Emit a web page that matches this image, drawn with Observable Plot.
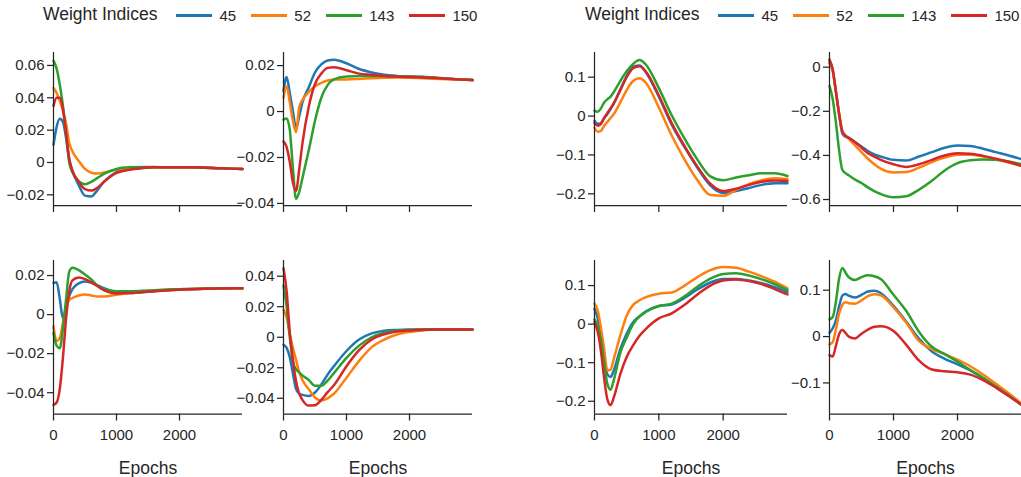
<!DOCTYPE html>
<html><head><meta charset="utf-8">
<script src="https://cdn.jsdelivr.net/npm/d3@7"></script>
<script src="https://cdn.jsdelivr.net/npm/@observablehq/plot@0.6"></script>
<style>
html,body{margin:0;padding:0;background:#fff;overflow:hidden;}
#root{position:relative;width:1021px;height:477px;font-family:"Liberation Sans",Arial,sans-serif;color:#262626;overflow:hidden;}
.legend{position:absolute;top:0;height:29px;display:flex;align-items:center;white-space:nowrap;}
.legend .title{font-size:17.5px;margin-right:19px;}
.legend .sw{display:inline-block;width:36px;height:3px;margin-right:7px;position:relative;top:0.5px;}
.legend .lab{font-size:15px;margin-right:15.2px;position:relative;top:1px;}
.legend .lab:last-child{margin-right:0;}
.panel{position:absolute;}
</style></head><body><div id="root"></div>
<script>
const epochs = [0,50,100,150,200,250,300,400,500,600,700,800,1000,1200,1400,1600,1800,2000,2200,2400,2600,2800,3000];
const weightIndices = ["45","52","143","150"];
const seriesColors = ["#1f77b4","#ff7f0e","#2ca02c","#d62728"];
const xTicks = [0,1000,2000];
const xLabel = "Epochs";
const legendTitle = "Weight Indices";

// Left group, top-left
const panelA = [
  [0.011,0.022,0.027,0.025,0.015,0.002,-0.005,-0.014,-0.0205,-0.021,-0.017,-0.012,-0.006,-0.004,-0.0032,-0.003,-0.003,-0.003,-0.003,-0.0032,-0.0035,-0.0038,-0.004],
  [0.046,0.043,0.038,0.032,0.024,0.012,0.007,0.001,-0.004,-0.0063,-0.0068,-0.0062,-0.0045,-0.0035,-0.003,-0.003,-0.003,-0.003,-0.003,-0.0032,-0.0035,-0.0038,-0.004],
  [0.063,0.058,0.048,0.035,0.017,0.0,-0.006,-0.0115,-0.0135,-0.012,-0.0095,-0.007,-0.004,-0.003,-0.0028,-0.0028,-0.003,-0.003,-0.003,-0.0032,-0.0035,-0.0038,-0.004],
  [0.035,0.04,0.04,0.033,0.018,0.002,-0.005,-0.012,-0.0165,-0.0174,-0.0155,-0.012,-0.0065,-0.0045,-0.0035,-0.003,-0.003,-0.003,-0.003,-0.0032,-0.0035,-0.0038,-0.004]
];
const yTicksA = [-0.02,0,0.02,0.04,0.06];

// Left group, top-right
const panelB = [
  [0.009,0.015,0.008,0.0,-0.0075,-0.002,0.004,0.0105,0.017,0.0205,0.0222,0.0225,0.021,0.0185,0.017,0.016,0.0155,0.0152,0.015,0.0146,0.0143,0.014,0.0137],
  [0.006,0.011,0.004,-0.004,-0.009,0.002,0.005,0.0085,0.011,0.0125,0.0135,0.014,0.014,0.0142,0.0145,0.0147,0.0148,0.0147,0.0145,0.0143,0.0141,0.0139,0.0137],
  [-0.0035,-0.003,-0.008,-0.025,-0.038,-0.035,-0.029,-0.017,-0.004,0.006,0.0115,0.014,0.0153,0.0155,0.0155,0.0155,0.0154,0.0153,0.0151,0.0148,0.0144,0.014,0.0137],
  [-0.013,-0.0155,-0.022,-0.031,-0.0345,-0.025,-0.014,0.002,0.012,0.0165,0.019,0.0193,0.018,0.0165,0.016,0.0155,0.0152,0.015,0.0148,0.0146,0.0143,0.014,0.0137]
];
const yTicksB = [-0.04,-0.02,0,0.02];

// Left group, bottom-left
const panelC = [
  [0.0162,0.0165,0.008,-0.002,0.004,0.0095,0.013,0.016,0.017,0.0163,0.015,0.0135,0.0115,0.011,0.0115,0.012,0.0125,0.0128,0.013,0.0132,0.0134,0.0135,0.0135],
  [-0.006,-0.0135,-0.012,-0.004,0.004,0.0075,0.0085,0.0098,0.0103,0.0098,0.0093,0.0093,0.0102,0.011,0.0117,0.0122,0.0126,0.0129,0.0131,0.0133,0.0134,0.0135,0.0135],
  [-0.0094,-0.016,-0.0172,-0.007,0.008,0.022,0.024,0.0228,0.0205,0.018,0.0148,0.013,0.012,0.012,0.0122,0.0125,0.0128,0.013,0.0132,0.0133,0.0134,0.0135,0.0135],
  [-0.0462,-0.045,-0.038,-0.022,-0.002,0.012,0.0175,0.019,0.0182,0.0165,0.0145,0.0125,0.0108,0.011,0.0115,0.012,0.0124,0.0127,0.013,0.0132,0.0134,0.0135,0.0135]
];
const yTicksC = [-0.04,-0.02,0,0.02];

// Left group, bottom-right
const panelD = [
  [-0.005,-0.007,-0.013,-0.024,-0.034,-0.037,-0.0378,-0.0385,-0.0362,-0.031,-0.0245,-0.019,-0.009,-0.0015,0.0025,0.0043,0.0048,0.005,0.005,0.005,0.005,0.005,0.005],
  [0.018,0.013,0.002,-0.007,-0.015,-0.023,-0.028,-0.034,-0.0395,-0.0415,-0.04,-0.037,-0.0265,-0.0155,-0.0065,-0.0015,0.0018,0.0035,0.0045,0.005,0.005,0.005,0.005],
  [0.034,0.02,0.0,-0.016,-0.021,-0.023,-0.025,-0.028,-0.0318,-0.0318,-0.0285,-0.0235,-0.0135,-0.0055,0.0,0.003,0.0043,0.0048,0.005,0.005,0.005,0.005,0.005],
  [0.0452,0.03,0.003,-0.015,-0.029,-0.037,-0.041,-0.0448,-0.0445,-0.041,-0.036,-0.0315,-0.019,-0.0085,-0.0015,0.002,0.0038,0.0045,0.0048,0.005,0.005,0.005,0.005]
];
const yTicksD = [-0.04,-0.02,0,0.02,0.04];

// Right group, top-left
const panelE = [
  [-0.012,-0.02,-0.018,-0.005,0.005,0.018,0.032,0.068,0.103,0.127,0.13,0.112,0.05,-0.022,-0.08,-0.133,-0.178,-0.198,-0.193,-0.185,-0.177,-0.173,-0.173],
  [-0.03,-0.04,-0.038,-0.025,-0.015,-0.005,0.005,0.035,0.067,0.09,0.097,0.085,0.022,-0.05,-0.112,-0.165,-0.203,-0.205,-0.19,-0.175,-0.165,-0.16,-0.162],
  [0.014,0.011,0.02,0.035,0.043,0.05,0.062,0.09,0.115,0.134,0.144,0.132,0.072,0.002,-0.058,-0.112,-0.155,-0.165,-0.158,-0.152,-0.147,-0.147,-0.154],
  [-0.018,-0.025,-0.02,-0.005,0.008,0.02,0.033,0.066,0.1,0.123,0.128,0.114,0.053,-0.018,-0.077,-0.13,-0.174,-0.193,-0.187,-0.177,-0.169,-0.166,-0.167]
];
const yTicksE = [-0.2,-0.1,0,0.1];

// Right group, top-right
const panelF = [
  [0.02,-0.015,-0.11,-0.215,-0.3,-0.315,-0.32,-0.34,-0.36,-0.38,-0.395,-0.405,-0.42,-0.423,-0.405,-0.385,-0.365,-0.355,-0.357,-0.37,-0.385,-0.4,-0.417],
  [0.03,-0.012,-0.11,-0.21,-0.29,-0.31,-0.325,-0.355,-0.385,-0.415,-0.44,-0.46,-0.477,-0.475,-0.455,-0.43,-0.41,-0.397,-0.397,-0.405,-0.418,-0.432,-0.447],
  [-0.085,-0.145,-0.25,-0.376,-0.465,-0.48,-0.49,-0.51,-0.525,-0.545,-0.562,-0.575,-0.59,-0.585,-0.555,-0.515,-0.468,-0.435,-0.422,-0.418,-0.42,-0.428,-0.44],
  [0.035,-0.01,-0.11,-0.21,-0.29,-0.31,-0.32,-0.34,-0.365,-0.39,-0.405,-0.42,-0.44,-0.452,-0.44,-0.42,-0.4,-0.39,-0.392,-0.402,-0.415,-0.43,-0.447]
];
const yTicksF = [-0.6,-0.4,-0.2,0];

// Right group, bottom-left
const panelG = [
  [0.04,0.015,-0.03,-0.085,-0.13,-0.137,-0.12,-0.065,-0.025,0.005,0.02,0.033,0.047,0.051,0.068,0.09,0.108,0.117,0.117,0.113,0.106,0.096,0.083],
  [0.053,0.035,-0.01,-0.065,-0.12,-0.118,-0.09,-0.03,0.022,0.05,0.062,0.07,0.079,0.082,0.1,0.122,0.14,0.148,0.146,0.136,0.124,0.11,0.093],
  [0.012,-0.005,-0.04,-0.1,-0.155,-0.17,-0.145,-0.075,-0.035,0.0,0.02,0.032,0.047,0.053,0.072,0.097,0.118,0.13,0.132,0.126,0.116,0.104,0.088],
  [0.005,-0.02,-0.07,-0.14,-0.195,-0.21,-0.19,-0.13,-0.085,-0.055,-0.03,-0.012,0.015,0.028,0.05,0.077,0.1,0.113,0.116,0.112,0.104,0.091,0.077]
];
const yTicksG = [-0.2,-0.1,0,0.1];

// Right group, bottom-right
const panelH = [
  [0.008,0.018,0.035,0.065,0.088,0.092,0.088,0.084,0.09,0.097,0.099,0.094,0.066,0.032,-0.005,-0.032,-0.048,-0.06,-0.073,-0.09,-0.108,-0.127,-0.147],
  [-0.017,-0.012,0.015,0.05,0.068,0.074,0.072,0.071,0.078,0.087,0.091,0.089,0.063,0.03,-0.01,-0.027,-0.038,-0.05,-0.064,-0.082,-0.102,-0.122,-0.145],
  [0.037,0.042,0.075,0.125,0.148,0.138,0.128,0.122,0.128,0.132,0.13,0.124,0.09,0.055,0.01,-0.022,-0.038,-0.054,-0.072,-0.089,-0.108,-0.127,-0.147],
  [-0.04,-0.043,-0.02,0.005,0.014,0.008,0.0,-0.004,0.006,0.015,0.021,0.022,0.012,-0.018,-0.052,-0.071,-0.075,-0.077,-0.082,-0.094,-0.11,-0.128,-0.147]
];
const yTicksH = [-0.1,0,0.1];

const panels = [
  {data: panelA, yTicks: yTicksA, yDomain: [-0.0266, 0.068],  left: 53,  top: 52,    w: 189, h: 153,   xLabels: false},
  {data: panelB, yTicks: yTicksB, yDomain: [-0.0409, 0.0257], left: 283, top: 52,    w: 189, h: 153,   xLabels: false},
  {data: panelC, yTicks: yTicksC, yDomain: [-0.0509, 0.0277], left: 53,  top: 259.5, w: 189, h: 153.5, xLabels: true},
  {data: panelD, yTicks: yTicksD, yDomain: [-0.0503, 0.0503], left: 283, top: 259.5, w: 189, h: 153.5, xLabels: true},
  {data: panelE, yTicks: yTicksE, yDomain: [-0.23, 0.1635],   left: 594, top: 52,    w: 193, h: 153,   xLabels: false},
  {data: panelF, yTicks: yTicksF, yDomain: [-0.627, 0.0666],  left: 829, top: 52,    w: 192, h: 153,   xLabels: false},
  {data: panelG, yTicks: yTicksG, yDomain: [-0.233, 0.165],   left: 594, top: 259.5, w: 193, h: 153.5, xLabels: true},
  {data: panelH, yTicks: yTicksH, yDomain: [-0.167, 0.164],   left: 829, top: 259.5, w: 192, h: 153.5, xLabels: true}
];

function toRows(series) {
  const rows = [];
  series.forEach((vals, i) => vals.forEach((v, j) => rows.push({epoch: epochs[j], value: v, idx: weightIndices[i]})));
  return rows;
}

const root = document.getElementById("root");
const FONT = '"Liberation Sans", Arial, sans-serif';
const INK = "#262626";
const mL = 56, mR = 4, mT = 4, mB = 62;

panels.forEach(p => {
  const marks = [
    Plot.axisY({ticks: p.yTicks, tickSize: 6, tickPadding: 3, strokeWidth: 1.25,
      tickFormat: d => String(d).replace("-", "\u2212"), label: null, fontSize: 15}),
    Plot.axisX({ticks: xTicks, tickSize: 7, tickPadding: 8, strokeWidth: 1.25,
      tickFormat: p.xLabels ? (d => String(d)) : (() => ""), label: null, fontSize: 15}),
    Plot.line(toRows(p.data), {x: "epoch", y: "value", stroke: "idx", strokeWidth: 2.5, curve: "monotone-x"}),
    Plot.ruleX([0], {stroke: INK, strokeWidth: 1.25}),
    Plot.ruleY([p.yDomain[0]], {stroke: INK, strokeWidth: 1.25})
  ];
  if (p.xLabels) {
    marks.push(Plot.text([xLabel], {text: d => d, frameAnchor: "bottom", dy: 54, lineAnchor: "middle", fontSize: 17.5, fill: INK}));
  }
  const chart = Plot.plot({
    width: mL + p.w + mR,
    height: mT + p.h + mB,
    marginLeft: mL, marginRight: mR, marginTop: mT, marginBottom: mB,
    style: {fontFamily: FONT, fontSize: "15px", color: INK, background: "transparent", overflow: "visible"},
    x: {domain: [0, 3000]},
    y: {domain: p.yDomain},
    color: {domain: weightIndices, range: seriesColors},
    marks
  });
  chart.classList.add("panel");
  chart.style.left = (p.left - mL) + "px";
  chart.style.top = (p.top - mT) + "px";
  chart.style.maxWidth = "none";
  root.appendChild(chart);
});

function addLegend(left) {
  const div = document.createElement("div");
  div.className = "legend";
  div.style.left = left + "px";
  const t = document.createElement("span");
  t.className = "title";
  t.textContent = legendTitle;
  div.appendChild(t);
  weightIndices.forEach((w, i) => {
    const sw = document.createElement("span");
    sw.className = "sw";
    sw.style.background = seriesColors[i];
    div.appendChild(sw);
    const lab = document.createElement("span");
    lab.className = "lab";
    lab.textContent = w;
    div.appendChild(lab);
  });
  root.appendChild(div);
}
addLegend(43);
addLegend(585);
</script></body></html>
